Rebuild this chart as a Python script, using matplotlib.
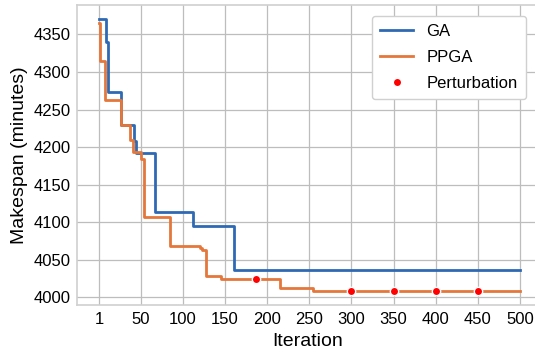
import matplotlib
matplotlib.use('Agg')
import matplotlib.pyplot as plt

# step points (iteration, makespan)
ga_iter = [1, 9, 11, 27, 42, 44, 67, 112, 161, 500]
ga_makespan = [4370, 4340, 4273, 4229, 4208, 4192, 4114, 4095, 4036, 4036]

ppga_iter = [1, 2, 8, 27, 38, 41, 51, 54, 85, 120, 123, 127, 145, 215, 255, 500]
ppga_makespan = [4365, 4315, 4263, 4229, 4210, 4194, 4184, 4107, 4068, 4066,
                 4063, 4029, 4025, 4012, 4008, 4008]

perturb_iter = [187, 300, 350, 400, 450]
perturb_makespan = [4025, 4008, 4008, 4008, 4008]

xticks = [1, 50, 100, 150, 200, 250, 300, 350, 400, 450, 500]
yticks = [4000, 4050, 4100, 4150, 4200, 4250, 4300, 4350]

plt.rcParams['font.family'] = ['Liberation Sans', 'DejaVu Sans']

fig = plt.figure(figsize=(5.35, 3.51), dpi=100)
ax = fig.add_axes([77.3 / 535, 46 / 351, (537 - 77.3) / 535, 300 / 351])

ax.plot(ga_iter, ga_makespan, drawstyle='steps-post', color='#2e6ab4', lw=2.0, label='GA')
ax.plot(ppga_iter, ppga_makespan, drawstyle='steps-post', color='#e4773a', lw=2.0, label='PPGA')
ax.plot(perturb_iter, perturb_makespan, 'o', color='red', ms=6, mec='white', mew=1.0,
        ls='none', label='Perturbation', zorder=5)

ax.set_xlim(-25, 520)
ax.set_ylim(3990, 4389)
ax.set_xticks(xticks)
ax.set_yticks(yticks)
ax.tick_params(axis='both', labelsize=12, length=0, pad=5)
ax.grid(True, color='#bdbdbd', lw=0.9)
ax.set_axisbelow(True)
for s in ax.spines.values():
    s.set_color('#d0d0d0')
    s.set_linewidth(1.2)

ax.set_xlabel('Iteration', fontsize=14, labelpad=4)
ax.set_ylabel('Makespan (minutes)', fontsize=14, labelpad=4)

leg = ax.legend(loc='upper right', fontsize=12, frameon=True, fancybox=True,
                borderaxespad=0.65, borderpad=0.5, labelspacing=0.65)
leg.get_frame().set_edgecolor('#d0d0d0')
leg.get_frame().set_alpha(1.0)

fig.savefig('out.png', dpi=100)
